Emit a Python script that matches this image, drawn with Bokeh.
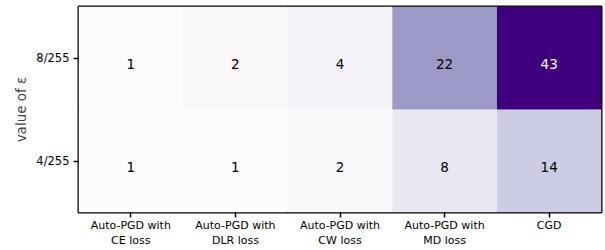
from bokeh.plotting import figure
from bokeh.models import ColumnDataSource, FixedTicker, Range1d, LinearColorMapper
from bokeh.transform import transform
from bokeh.core.properties import value
from bokeh.embed import file_html
from bokeh.resources import INLINE

# ---- data ----
methods = ["Auto-PGD with\nCE loss", "Auto-PGD with\nDLR loss", "Auto-PGD with\nCW loss",
           "Auto-PGD with\nMD loss", "CGD"]
eps_labels = ["4/255", "8/255"]
vals_4 = [1, 1, 2, 8, 14]
vals_8 = [1, 2, 4, 22, 43]

# ---- Purples colormap (256 steps) ----
purples9 = ["#fcfbfd", "#efedf5", "#dadaeb", "#bcbddc", "#9e9ac8",
            "#807dba", "#6a51a3", "#54278f", "#3f007d"]

def hex2rgb(h):
    return tuple(int(h[i:i + 2], 16) for i in (1, 3, 5))

def build_cmap(cols, n=256):
    rgb = [hex2rgb(c) for c in cols]
    out = []
    for k in range(n):
        t = k / (n - 1) * (len(rgb) - 1)
        i = min(int(t), len(rgb) - 2)
        f = t - i
        c = [round(rgb[i][j] + (rgb[i + 1][j] - rgb[i][j]) * f) for j in range(3)]
        out.append("#%02x%02x%02x" % tuple(c))
    return out

palette = build_cmap(purples9)
all_vals = vals_4 + vals_8
mapper = LinearColorMapper(palette=palette, low=min(all_vals), high=max(all_vals))

xs, ys, vs, tc = [], [], [], []
for row, vals in enumerate([vals_4, vals_8]):
    for col, v in enumerate(vals):
        xs.append(col)
        ys.append(row)
        vs.append(v)
        tc.append("white" if v > 0.6 * max(all_vals) else "black")
src = ColumnDataSource(dict(x=xs, y=ys, v=vs, lbl=[str(v) for v in vs], tc=tc))

nx, ny = len(methods), len(eps_labels)
p = figure(output_backend="svg", toolbar_location=None,
           frame_width=523, frame_height=206,
           x_range=Range1d(-0.5, nx - 0.5),
           y_range=Range1d(-0.5, ny - 0.5),
           min_border_left=78, min_border_right=4, min_border_top=6, min_border_bottom=38)

p.rect(x="x", y="y", width=1, height=1, source=src,
       fill_color=transform("v", mapper), line_color=None)
p.text(x="x", y="y", text="lbl", source=src, text_color="tc",
       text_align="center", text_baseline="middle", y_offset=6,
       text_font=value("DejaVu Sans"), text_font_size="13.5px")

p.grid.visible = False
p.outline_line_color = "#000000"
p.outline_line_width = 2
p.background_fill_color = "white"
p.border_fill_color = "white"

xa = p.xaxis[0]
xa.ticker = FixedTicker(ticks=list(range(nx)))
xa.major_label_overrides = {i: m for i, m in enumerate(methods)}
ya = p.yaxis[0]
ya.ticker = FixedTicker(ticks=list(range(ny)))
ya.major_label_overrides = {i: e for i, e in enumerate(eps_labels)}
ya.axis_label = "value of ε"
ya.axis_label_text_font = "DejaVu Sans"
ya.axis_label_text_font_size = "13.5px"
ya.axis_label_text_font_style = "normal"
ya.axis_label_standoff = 4

for ax in (xa, ya):
    ax.axis_line_color = None
    ax.minor_tick_line_color = None
    ax.major_tick_in = 0
    ax.major_tick_out = 5
    ax.major_tick_line_color = "#000000"
    ax.major_tick_line_width = 1.5
    ax.major_label_text_font = "DejaVu Sans"
    ax.major_label_text_font_size = "11.5px"
    ax.major_label_text_color = "black"
xa.major_label_text_font_size = "11px"
xa.major_label_standoff = 1
ya.major_label_standoff = 4

open("out.html", "w").write(file_html(p, INLINE))
